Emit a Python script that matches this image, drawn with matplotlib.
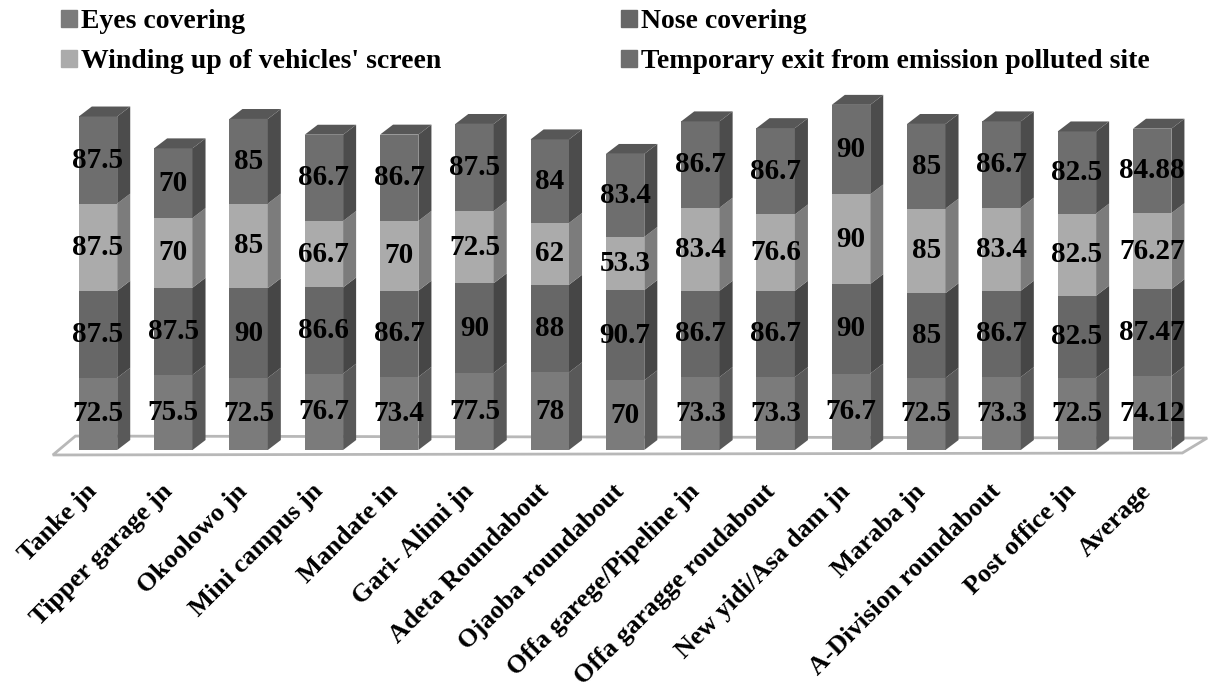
import numpy as np
from matplotlib import pyplot as plt
from matplotlib.patches import Polygon, Patch

plt.rcParams['font.family'] = ['Liberation Serif', 'DejaVu Serif']
plt.rcParams['font.weight'] = 'bold'

sites = ["Tanke jn", "Tipper garage jn", "Okoolowo jn", "Mini campus jn",
         "Mandate in", "Gari- Alimi jn", "Adeta Roundabout",
         "Ojaoba roundabout", "Offa garege/Pipeline jn",
         "Offa garagge roudabout", "New yidi/Asa dam jn", "Maraba jn",
         "A-Division roundabout", "Post office jn", "Average"]

eyes = [72.5, 75.5, 72.5, 76.7, 73.4, 77.5, 78, 70, 73.3, 73.3, 76.7,
        72.5, 73.3, 72.5, 74.12]
nose = [87.5, 87.5, 90, 86.6, 86.7, 90, 88, 90.7, 86.7, 86.7, 90, 85,
        86.7, 82.5, 87.47]
winding = [87.5, 70, 85, 66.7, 70, 72.5, 62, 53.3, 83.4, 76.6, 90, 85,
           83.4, 82.5, 76.27]
temp_exit = [87.5, 70, 85, 86.7, 86.7, 87.5, 84, 83.4, 86.7, 86.7, 90, 85,
             86.7, 82.5, 84.88]

series = [
    ("Eyes covering", eyes, "#7b7b7b", "#595959"),
    ("Nose covering", nose, "#676767", "#464646"),
    ("Winding up of vehicles' screen", winding, "#ababab", "#7c7c7c"),
    ("Temporary exit from emission polluted site", temp_exit,
     "#6e6e6e", "#4c4c4c"),
]
top_color = "#575757"

W, H = 1208, 689
fig = plt.figure(figsize=(W / 100, H / 100), dpi=100)
# axes bottom sits on the bar base line
ax = fig.add_axes([0, (H - 450) / H, 1, 450 / H])
ax.set_xlim(-98 / 75.3, (W - 98) / 75.3)
ax.set_ylim(0, 452)
ax.axis('off')

width = 0.51
dx, dy = 0.173, 10  # depth of the bars

# floor of the 3d box
n = len(sites)
floor = Polygon([(-0.6, -5), (n - 0.6, -3), (n - 0.27, 12), (-0.3, 14)],
                closed=True, facecolor='white', edgecolor='#b8b8b8',
                lw=2, clip_on=False, zorder=1)
ax.add_patch(floor)

x = np.arange(n)
bottom = np.zeros(n)
for name, vals, front, side in series:
    vals = np.array(vals)
    ax.bar(x, vals, width, bottom=bottom, color=front, zorder=3)
    for i in range(n):
        xr = x[i] + width / 2
        y0, y1 = bottom[i], bottom[i] + vals[i]
        ax.add_patch(Polygon([(xr, y0), (xr + dx, y0 + dy),
                              (xr + dx, y1 + dy), (xr, y1)],
                             closed=True, facecolor=side, edgecolor='none',
                             zorder=3))
        lbl = ("%g" % vals[i])
        ax.text(x[i], (y0 + y1) / 2, lbl, ha='center', va='center',
                fontsize=21, fontweight='bold', color='black', zorder=5)
    bottom = bottom + vals

# top faces
for i in range(n):
    xl, xr = x[i] - width / 2, x[i] + width / 2
    t = bottom[i]
    ax.add_patch(Polygon([(xl, t), (xr, t), (xr + dx, t + dy),
                          (xl + dx, t + dy)], closed=True,
                         facecolor=top_color, edgecolor='none', zorder=3))

for i, s in enumerate(sites):
    ax.text(x[i] - 0.06, -38, s, rotation=45, rotation_mode='anchor',
            ha='right', va='center', fontsize=19, fontweight='bold',
            clip_on=False)

handles = [Patch(color=series[k][2]) for k in (0, 2, 1, 3)]
labels = [series[k][0] for k in (0, 2, 1, 3)]
fig.legend(handles, labels, ncol=2, loc='upper left',
           bbox_to_anchor=(0.03, 1.023), frameon=False,
           prop={'family': 'Liberation Serif', 'weight': 'bold', 'size': 20},
           handlelength=0.55, handleheight=0.55, handletextpad=0.15,
           columnspacing=6.5, labelspacing=0.55)

fig.savefig("out.png", dpi=100)
